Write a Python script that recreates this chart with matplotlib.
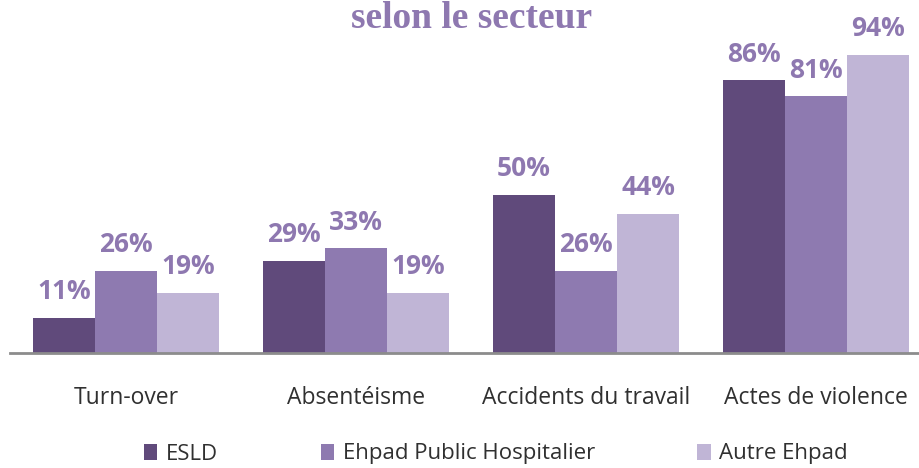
import matplotlib.pyplot as plt
import numpy as np

categories = ["Turn-over", "Absentéisme", "Accidents du travail", "Actes de violence"]
series_names = ["ESLD", "Ehpad Public Hospitalier", "Autre Ehpad"]
esld = [11, 29, 50, 86]
ehpad_public = [26, 33, 26, 81]
autre_ehpad = [19, 19, 44, 94]

colors = ["#604a7b", "#8e7ab0", "#c0b5d6"]
label_color = "#8e78b0"

fig = plt.figure(figsize=(9.2, 4.68), dpi=100)
ax = fig.add_axes([10 / 920, 115 / 468, 910 / 920, 317 / 468])

x = np.arange(len(categories))
width = 0.27
for i, (name, vals) in enumerate(zip(series_names, [esld, ehpad_public, autre_ehpad])):
    pos = x + (i - 1) * width
    ax.bar(pos, vals, width, color=colors[i], label=name, linewidth=0)
    for p, v in zip(pos, vals):
        ax.text(p, v + 4, f"{v}%", ha="center", va="bottom", fontsize=19,
                fontweight="bold", color=label_color, family="Open Sans", clip_on=False)

ax.set_xlim(-0.504, 3.452)
ax.set_ylim(0, 100)
for s in ["top", "right", "left"]:
    ax.spines[s].set_visible(False)
ax.spines["bottom"].set_color("#8c8c8c")
ax.spines["bottom"].set_linewidth(2)
ax.set_yticks([])
ax.set_xticks(x)
ax.set_xticklabels(categories, fontsize=16.5, color="#303030", family="Open Sans")
ax.tick_params(axis="x", length=0, pad=24)

fig.text(472 / 920, 1 - 19 / 468, "selon le secteur", ha="center", va="center",
         fontsize=27, fontweight="bold", color=label_color, family="Liberation Serif")

leg = fig.legend(loc="center", bbox_to_anchor=(496 / 920, 14 / 468), ncol=3,
                 frameon=False, handlelength=0.6, handleheight=0.7,
                 handletextpad=0.4, columnspacing=4.6, borderpad=0,
                 prop={"family": "Open Sans", "size": 16})
for t in leg.get_texts():
    t.set_color("#303030")

fig.savefig("out.png", dpi=100)
